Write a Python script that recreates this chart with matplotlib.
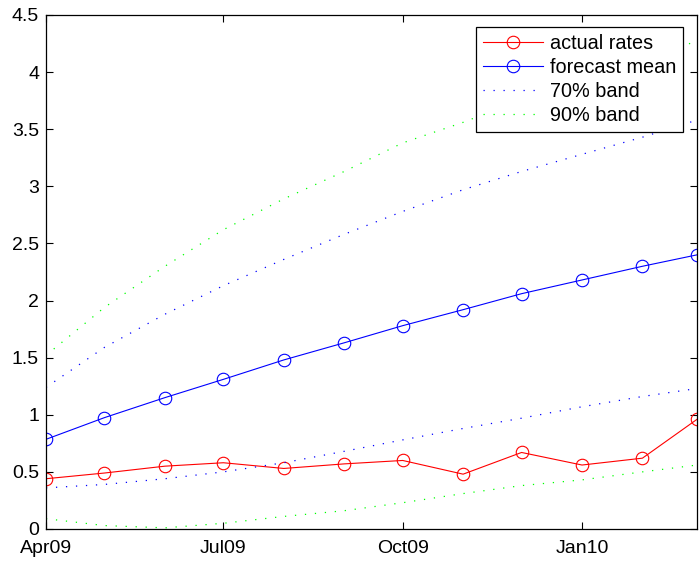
import matplotlib
matplotlib.use("Agg")
import matplotlib.pyplot as plt
import matplotlib.dates as mdates
import matplotlib.ticker as mticker
import datetime as dt

plt.rcParams['font.family'] = ['Liberation Sans', 'DejaVu Sans']

months = [dt.date(2009, m, 1) for m in range(4, 13)] + [dt.date(2010, m, 1) for m in range(1, 4)]
actual_rates = [0.44, 0.49, 0.55, 0.58, 0.53, 0.57, 0.60, 0.48, 0.67, 0.56, 0.62, 0.96]
forecast_mean = [0.785, 0.975, 1.15, 1.31, 1.48, 1.63, 1.78, 1.92, 2.06, 2.18, 2.30, 2.40]
band70_upper = [1.24, 1.59, 1.88, 2.13, 2.36, 2.58, 2.78, 2.97, 3.13, 3.28, 3.43, 3.58]
band70_lower = [0.36, 0.39, 0.44, 0.50, 0.58, 0.68, 0.78, 0.88, 0.97, 1.07, 1.16, 1.23]
band90_upper = [1.52, 1.94, 2.30, 2.62, 2.89, 3.13, 3.38, 3.56, 3.76, 3.95, 4.12, 4.27]
band90_lower = [0.09, 0.03, 0.01, 0.05, 0.11, 0.16, 0.23, 0.31, 0.38, 0.43, 0.50, 0.56]
xtick_dates = [dt.date(2009, 4, 1), dt.date(2009, 7, 1), dt.date(2009, 10, 1), dt.date(2010, 1, 1)]
ytick_values = [0, 0.5, 1, 1.5, 2, 2.5, 3, 3.5, 4, 4.5]

fig = plt.figure(figsize=(7.0, 5.63), dpi=100)
ax = fig.add_axes([0.0657, 0.0604, 0.93, 0.913])

dot = (0, (1, 7))
ax.plot(months, actual_rates, color=(1, 0, 0), lw=0.8, marker='o', ms=9,
        mfc='none', mec=(1, 0, 0), mew=0.8, label='actual rates')
ax.plot(months, forecast_mean, color=(0, 0, 1), lw=0.8, marker='o', ms=9,
        mfc='none', mec=(0, 0, 1), mew=0.8, label='forecast mean')
ax.plot(months, band70_upper, color=(0, 0, 1), lw=0.9, ls=dot, label='70% band')
ax.plot(months, band70_lower, color=(0, 0, 1), lw=0.9, ls=dot)
ax.plot(months, band90_upper, color=(0, 1, 0), lw=0.9, ls=dot, label='90% band')
ax.plot(months, band90_lower, color=(0, 1, 0), lw=0.9, ls=dot)

ax.set_xlim(dt.date(2009, 4, 1), dt.date(2010, 3, 1))
ax.set_ylim(0, 4.5)
ax.set_xticks(xtick_dates)
ax.xaxis.set_major_formatter(mdates.DateFormatter('%b%y'))
ax.set_yticks(ytick_values)
ax.yaxis.set_major_formatter(mticker.FormatStrFormatter('%g'))
ax.tick_params(direction='in', top=True, right=True, length=5, width=0.8,
               labelsize=14, colors='black')
ax.tick_params(axis='x', pad=8)
ax.tick_params(axis='y', pad=5)
for s in ax.spines.values():
    s.set_linewidth(0.9)
    s.set_color('black')

leg = ax.legend(loc='upper right', bbox_to_anchor=(0.9785, 0.977), fontsize=14.3,
                handlelength=3.0, handletextpad=0.35, borderpad=0.35,
                labelspacing=0.25, fancybox=False, framealpha=1, borderaxespad=0)
leg.get_frame().set_edgecolor('black')
leg.get_frame().set_linewidth(0.9)

fig.savefig('out.png', dpi=100)
